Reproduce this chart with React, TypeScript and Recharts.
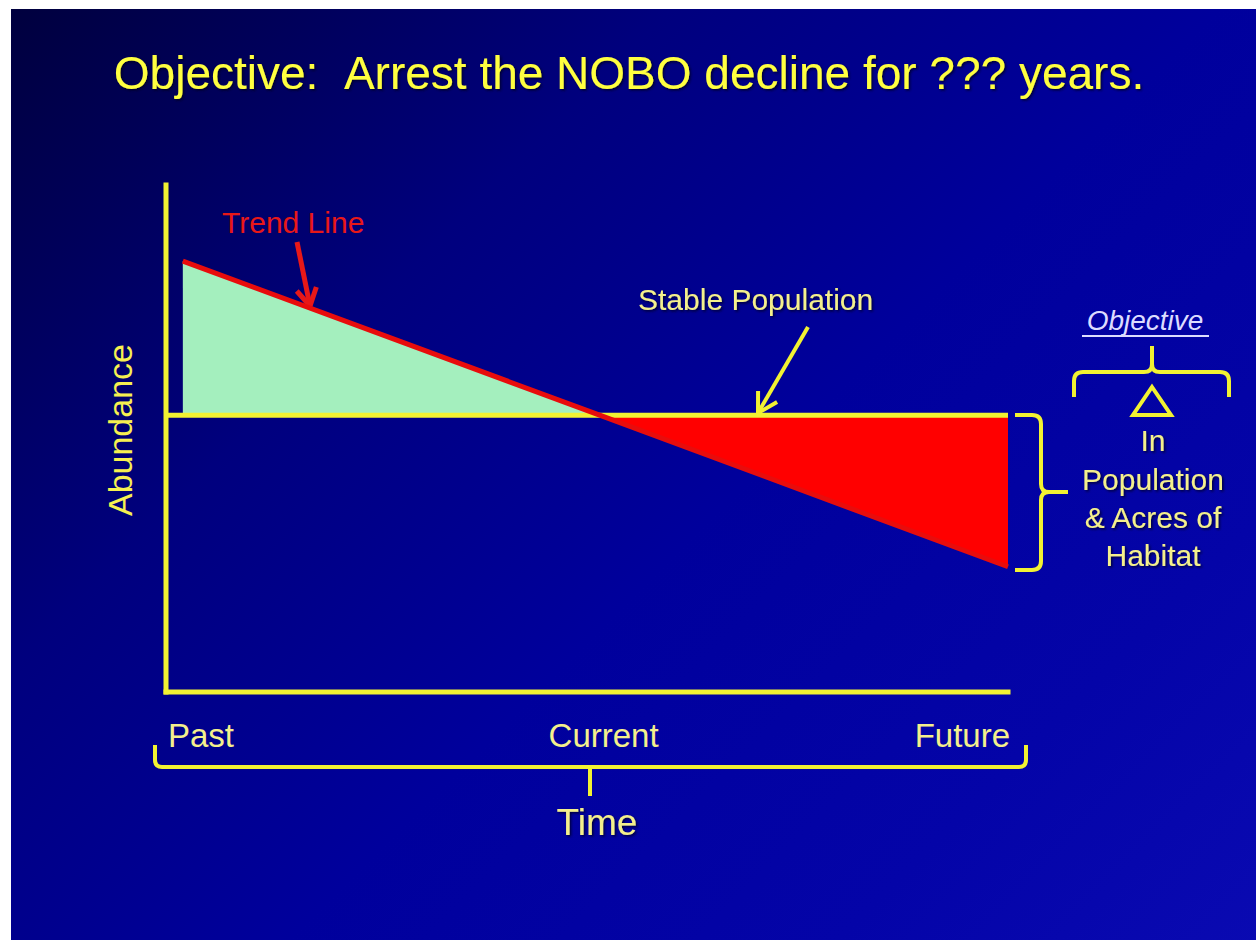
import React from 'react';
import { ComposedChart, Area, Line, XAxis, YAxis, Label, Customized } from 'recharts';

// time positions (0 = past, 100 = future) and abundance levels
const timePoints = [0, 2, 51.5, 100];
const stableValues = [54.6, 54.6, 54.6, 54.6];
const trendValues = [null, 85, 54.6, 24.7];
const gainValues = [null, 85, 54.6, null];
const lossValues = [null, null, 54.6, 24.7];

const timeTicks = [0, 51.5, 100];
const timeLabels = ['Past', 'Current', 'Future'];

const stableLevel = 54.6;

const chartData = timePoints.map((t, i) => ({
  t,
  stable: stableValues[i],
  trend: trendValues[i],
  gain: gainValues[i],
  loss: lossValues[i],
}));

const FONT = '"Liberation Sans", Arial, sans-serif';
const YELLOW = '#f2f232';
const TEXT_YELLOW = '#f4f08c';

const arrowHead = (x1: number, y1: number, x2: number, y2: number, len: number) => {
  const d = Math.hypot(x2 - x1, y2 - y1);
  const bx = (x1 - x2) / d;
  const by = (y1 - y2) / d;
  const c = Math.cos(Math.PI / 6);
  const s = Math.sin(Math.PI / 6);
  const ax = x2 + len * (bx * c - by * s);
  const ay = y2 + len * (bx * s + by * c);
  const cx = x2 + len * (bx * c + by * s);
  const cy = y2 + len * (-bx * s + by * c);
  return `M${ax},${ay} L${x2},${y2} L${cx},${cy}`;
};

const TimeTick = (props: any) => {
  const { x, y, payload, index } = props;
  const anchor = index === 0 ? 'start' : index === timeTicks.length - 1 ? 'end' : 'middle';
  const dx = index === 0 ? 2 : index === timeTicks.length - 1 ? 2 : 4;
  return (
    <text x={x + dx} y={y + 55} textAnchor={anchor} fill={TEXT_YELLOW} fontSize={33} fontFamily={FONT}>
      {timeLabels[timeTicks.indexOf(payload.value)]}
    </text>
  );
};

const Annotations = () => (
  <g fontFamily={FONT}>
    <defs>
      <filter id="txtShadow" x="-5%" y="-5%" width="110%" height="120%">
        <feDropShadow dx="1.5" dy="1.5" stdDeviation="0.8" floodColor="#000020" floodOpacity="0.8" />
      </filter>
    </defs>
    {/* title */}
    <text x={629} y={89} textAnchor="middle" fill="#ffff40" fontSize={46} filter="url(#txtShadow)">
      Objective:{'\u00a0\u00a0'}Arrest the NOBO decline for ??? years.
    </text>

    {/* trend line callout */}
    <text x={222} y={233} fill="#e81818" fontSize={30}>Trend Line</text>
    <line x1={297} y1={242} x2={310} y2={306} stroke="#e81818" strokeWidth={5} />
    <path d={arrowHead(297, 242, 310, 306, 20)} stroke="#e81818" strokeWidth={5} fill="none" />

    {/* stable population callout */}
    <text x={638} y={310} fill={TEXT_YELLOW} fontSize={30} filter="url(#txtShadow)">Stable Population</text>
    <line x1={808} y1={327} x2={758} y2={413} stroke={YELLOW} strokeWidth={4} />
    <path d={arrowHead(808, 327, 758, 413, 22)} stroke={YELLOW} strokeWidth={4} fill="none" />

    {/* brace beside the loss */}
    <path d="M1015,415 H1032 Q1041,415 1041,424 V484 Q1041,492 1049,492 H1068 M1049,492 Q1041,492 1041,500 V561 Q1041,570 1032,570 H1015"
      stroke={YELLOW} strokeWidth={4} fill="none" />

    {/* objective box */}
    <text x={1145} y={330} textAnchor="middle" fill="#dcdcff" fontSize={28} fontStyle="italic">Objective</text>
    <line x1={1082} y1={336} x2={1209} y2={336} stroke="#dcdcff" strokeWidth={2} />
    <path d="M1074,397 V381 Q1074,372 1083,372 H1144 Q1152,372 1152,364 V346 M1152,364 Q1152,372 1160,372 H1220 Q1229,372 1229,381 V397"
      stroke={YELLOW} strokeWidth={4} fill="none" />
    <path d="M1152,387 L1171,415 H1133 Z" stroke={YELLOW} strokeWidth={4} fill="none" strokeLinejoin="miter" />
    <g textAnchor="middle" fill={TEXT_YELLOW} fontSize={30} filter="url(#txtShadow)">
      <text x={1153} y={451}>In</text>
      <text x={1153} y={490}>Population</text>
      <text x={1153} y={528}>&amp; Acres of</text>
      <text x={1153} y={566}>Habitat</text>
    </g>

    {/* time brace */}
    <path d="M155,745 V760 Q155,767 162,767 H1019 Q1026,767 1026,760 V745 M590,767 V796"
      stroke={YELLOW} strokeWidth={4} fill="none" />
    <text x={597} y={835} textAnchor="middle" fill={TEXT_YELLOW} fontSize={37} filter="url(#txtShadow)">Time</text>
  </g>
);

const App: React.FC = () => {
  return (
    <div style={{ position: 'relative', width: 1256, height: 940, background: '#ffffff', overflow: 'hidden' }}>
      <style>{'body { margin: 0; background: #0606a6; }'}</style>
      <div
        style={{
          position: 'absolute',
          left: 11,
          top: 9,
          right: 0,
          bottom: -20,
          background:
            'linear-gradient(135deg, #00003e 0%, #00007e 30%, #00009c 55%, #0404a8 80%, #0a0ab2 100%)',
        }}
      />
      <div style={{ position: 'absolute', left: 0, top: 0 }}>
        <ComposedChart
          width={1256}
          height={940}
          data={chartData}
          margin={{ top: 185, right: 248, bottom: 188, left: 106 }}
        >
          <XAxis
            dataKey="t"
            type="number"
            domain={[0, 100]}
            ticks={timeTicks}
            tick={<TimeTick />}
            tickLine={false}
            tickSize={0}
            tickMargin={0}
            height={60}
            axisLine={{ stroke: YELLOW, strokeWidth: 5, strokeLinecap: 'square' }}
          />
          <YAxis
            type="number"
            domain={[0, 100]}
            tick={false}
            tickLine={false}
            width={60}
            axisLine={{ stroke: YELLOW, strokeWidth: 5, strokeLinecap: 'square' }}
          >
            <Label
              content={() => (
                <text
                  x={120}
                  y={430}
                  transform="rotate(-90 120 430)"
                  textAnchor="middle"
                  dominantBaseline="central"
                  fill="#f6f050"
                  fontSize={34}
                  fontFamily={FONT}
                >
                  Abundance
                </text>
              )}
            />
          </YAxis>
          <Area
            dataKey="gain"
            type="linear"
            baseValue={stableLevel}
            fill="#a4efbe"
            fillOpacity={1}
            stroke="none"
            isAnimationActive={false}
            dot={false}
            activeDot={false}
          />
          <Area
            dataKey="loss"
            type="linear"
            baseValue={stableLevel}
            fill="#ff0000"
            fillOpacity={1}
            stroke="none"
            isAnimationActive={false}
            dot={false}
            activeDot={false}
          />
          <Line
            dataKey="stable"
            type="linear"
            stroke={YELLOW}
            strokeWidth={5}
            dot={false}
            activeDot={false}
            isAnimationActive={false}
          />
          <Line
            dataKey="trend"
            type="linear"
            stroke="#e80c0c"
            strokeWidth={5}
            dot={false}
            activeDot={false}
            isAnimationActive={false}
          />
          <Customized component={Annotations} />
        </ComposedChart>
      </div>
    </div>
  );
};

export default App;
